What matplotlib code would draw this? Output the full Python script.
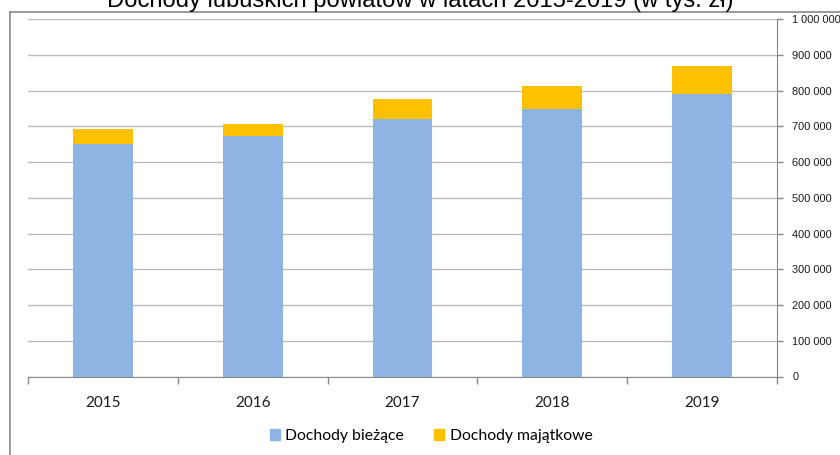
import numpy as np
import matplotlib
matplotlib.use("Agg")
import matplotlib.pyplot as plt
from matplotlib.ticker import FuncFormatter, FixedLocator
from matplotlib.lines import Line2D
from matplotlib.patches import Patch

# dane (tys. zl)
lata = ["2015", "2016", "2017", "2018", "2019"]
biezace = [652000, 674000, 721000, 748000, 790000]
majatkowe = [42000, 34000, 55000, 64000, 78000]
y_ticks = [0, 100000, 200000, 300000, 400000, 500000, 600000, 700000, 800000, 900000, 1000000]

tytul = "Dochody lubuskich powiatów w latach 2015-2019 (w tys. zł)"
niebieski = "#8EB4E3"
zolty = "#FFC000"
szary = "#888888"

W, H = 840, 455
fig = plt.figure(figsize=(W / 100, H / 100), dpi=100)
ax = fig.add_axes([28 / W, 1 - 376.5 / H, (777 - 28) / W, (376.5 - 19.3) / H])

x = np.arange(len(lata))
ax.bar(x, biezace, width=0.4, color=niebieski, zorder=3, label="Dochody bieżące")
ax.bar(x, majatkowe, width=0.4, bottom=biezace, color=zolty, zorder=3, label="Dochody majątkowe")

ax.set_xlim(-0.5, len(lata) - 0.5)
ax.set_ylim(0, 1000000)

# os y po prawej
ax.yaxis.tick_right()
ax.yaxis.set_major_locator(FixedLocator(y_ticks))
ax.yaxis.set_major_formatter(FuncFormatter(lambda v, p: format(int(v), ",").replace(",", " ")))
ax.tick_params(axis="y", which="major", length=4, width=1, color=szary, pad=7,
               labelsize=7.9, labelcolor="#1a1a1a")
for t in ax.get_yticklabels():
    t.set_family("Liberation Sans")
ax.grid(axis="y", color="#BBBBBB", linewidth=1, zorder=0)

# os x
ax.set_xticks(x)
ax.set_xticklabels(lata, family="Lato", fontsize=11, color="#1a1a1a")
ax.set_xticks(np.arange(-0.5, len(lata)), minor=True)
ax.tick_params(axis="x", which="major", length=0, pad=14)
ax.tick_params(axis="x", which="minor", length=5, width=1, color=szary, direction="out")

for s in ["left", "top"]:
    ax.spines[s].set_visible(False)
ax.spines["right"].set_color(szary)
ax.spines["bottom"].set_color(szary)
ax.spines["right"].set_zorder(4)
ax.spines["bottom"].set_zorder(4)

# ramka wykresu
fig.add_artist(Line2D([10 / W, 10 / W], [1 - 12 / H, 0], transform=fig.transFigure, color=szary, lw=1.2))
fig.add_artist(Line2D([10 / W, 1], [1 - 12 / H, 1 - 12 / H], transform=fig.transFigure, color=szary, lw=1.2))

fig.text(0.5, 1 - 7.5 / H, tytul, ha="center", va="baseline", family="Liberation Sans", fontsize=17.1)

uchwyty = [Patch(color=niebieski, label="Dochody bieżące"), Patch(color=zolty, label="Dochody majątkowe")]
fig.legend(handles=uchwyty, loc="center", bbox_to_anchor=(431 / W, 1 - 436 / H), ncol=2, frameon=False,
           handlelength=0.65, handleheight=0.65, handletextpad=0.35, columnspacing=1.9,
           prop={"family": "Lato", "size": 11.3})

fig.savefig("out.png", dpi=100)
